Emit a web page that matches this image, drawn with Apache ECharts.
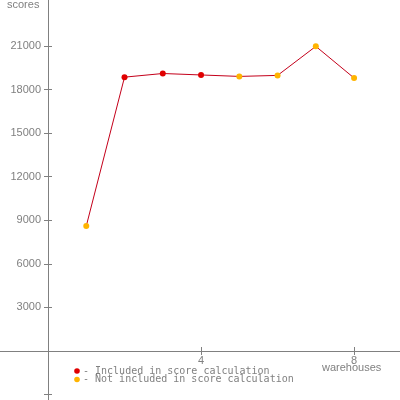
<!DOCTYPE html>
<html><head><meta charset="utf-8">
<script src="https://cdn.jsdelivr.net/npm/echarts@6/dist/echarts.min.js"></script>
<style>html,body{margin:0;padding:0;background:#fff}#c{width:400px;height:400px}</style>
</head><body><div id="c"></div>
<script>
var warehouses = [1, 2, 3, 4, 5, 6, 7, 8];
var scores = [8600, 18850, 19100, 19000, 18900, 18970, 20970, 18790];
var included = [false, true, true, true, false, false, false, false];
var yTicks = [-3000, 3000, 6000, 9000, 12000, 15000, 18000, 21000];
var yLabels = [3000, 6000, 9000, 12000, 15000, 18000, 21000];
var xTicks = [4, 8];
var xLabels = [4, 8];

var AX = '#808080';
var XMIN = -1.255, XMAX = 9.2, YMIN = -3372, YMAX = 24160;
var data = warehouses.map(function (w, i) {
  return {value: [w, scores[i]], itemStyle: {color: included[i] ? '#e00000' : '#ffb400'}};
});
function fullX(g, inside, line) {
  return {gridIndex: g, type: 'value', min: XMIN, max: XMAX,
    axisLine: {show: line, onZero: true, lineStyle: {color: AX, width: 1}},
    axisTick: {show: true, inside: inside, length: 4, customValues: xTicks, lineStyle: {color: AX}},
    axisLabel: {show: false}, splitLine: {show: false}};
}
function fullY(g, inside, line) {
  return {gridIndex: g, type: 'value', min: YMIN, max: YMAX,
    axisLine: {show: line, onZero: true, lineStyle: {color: AX, width: 1}},
    axisTick: {show: true, inside: inside, length: 4, customValues: yTicks, lineStyle: {color: AX}},
    axisLabel: {show: false}, splitLine: {show: false}};
}
var chart = echarts.init(document.getElementById('c'), null, {renderer: 'canvas'});
chart.setOption({
  animation: false,
  backgroundColor: '#fff',
  grid: [
    {left: 0, right: 0, top: 0, bottom: 0, containLabel: false, outerBoundsMode: 'none'},
    {left: 0, right: 0, top: 0, bottom: 0, containLabel: false, outerBoundsMode: 'none'},
    {left: 48, right: 0, top: 0, bottom: 49, containLabel: false}
  ],
  xAxis: [
    fullX(0, false, true),
    fullX(1, true, false),
    {gridIndex: 2, type: 'value', min: 0, max: XMAX,
      axisLine: {show: false}, axisTick: {show: false}, splitLine: {show: false},
      axisLabel: {show: true, customValues: xLabels, color: AX, fontFamily: 'Liberation Sans', fontSize: 11, margin: 4,
        formatter: function (v) { return String(v); }}}
  ],
  yAxis: [
    fullY(0, false, true),
    fullY(1, true, false),
    {gridIndex: 2, type: 'value', min: 0, max: YMAX,
      axisLine: {show: false}, axisTick: {show: false}, splitLine: {show: false},
      axisLabel: {show: true, customValues: yLabels, color: AX, fontFamily: 'Liberation Sans', fontSize: 11, margin: 7,
        formatter: function (v) { return String(v); }}}
  ],
  series: [{
    type: 'line', xAxisIndex: 2, yAxisIndex: 2, data: data,
    symbol: 'circle', symbolSize: 6,
    lineStyle: {color: '#c4001a', width: 1},
    emphasis: {disabled: true}
  }],
  graphic: [
    {type: 'text', left: 7, top: -1, style: {text: 'scores', fill: AX, font: '11px "Liberation Sans"'}},
    {type: 'text', left: 322, top: 362, style: {text: 'warehouses', fill: AX, font: '11px "Liberation Sans"'}},
    {type: 'circle', shape: {cx: 77, cy: 371, r: 2.8}, style: {fill: '#e00000'}},
    {type: 'circle', shape: {cx: 77, cy: 379.5, r: 2.8}, style: {fill: '#ffb400'}},
    {type: 'text', left: 83, top: 366, style: {text: '- Included in score calculation', fill: AX, font: '10px "DejaVu Sans Mono"'}},
    {type: 'text', left: 83, top: 374.5, style: {text: '- Not included in score calculation', fill: AX, font: '10px "DejaVu Sans Mono"'}}
  ]
});
</script></body></html>
